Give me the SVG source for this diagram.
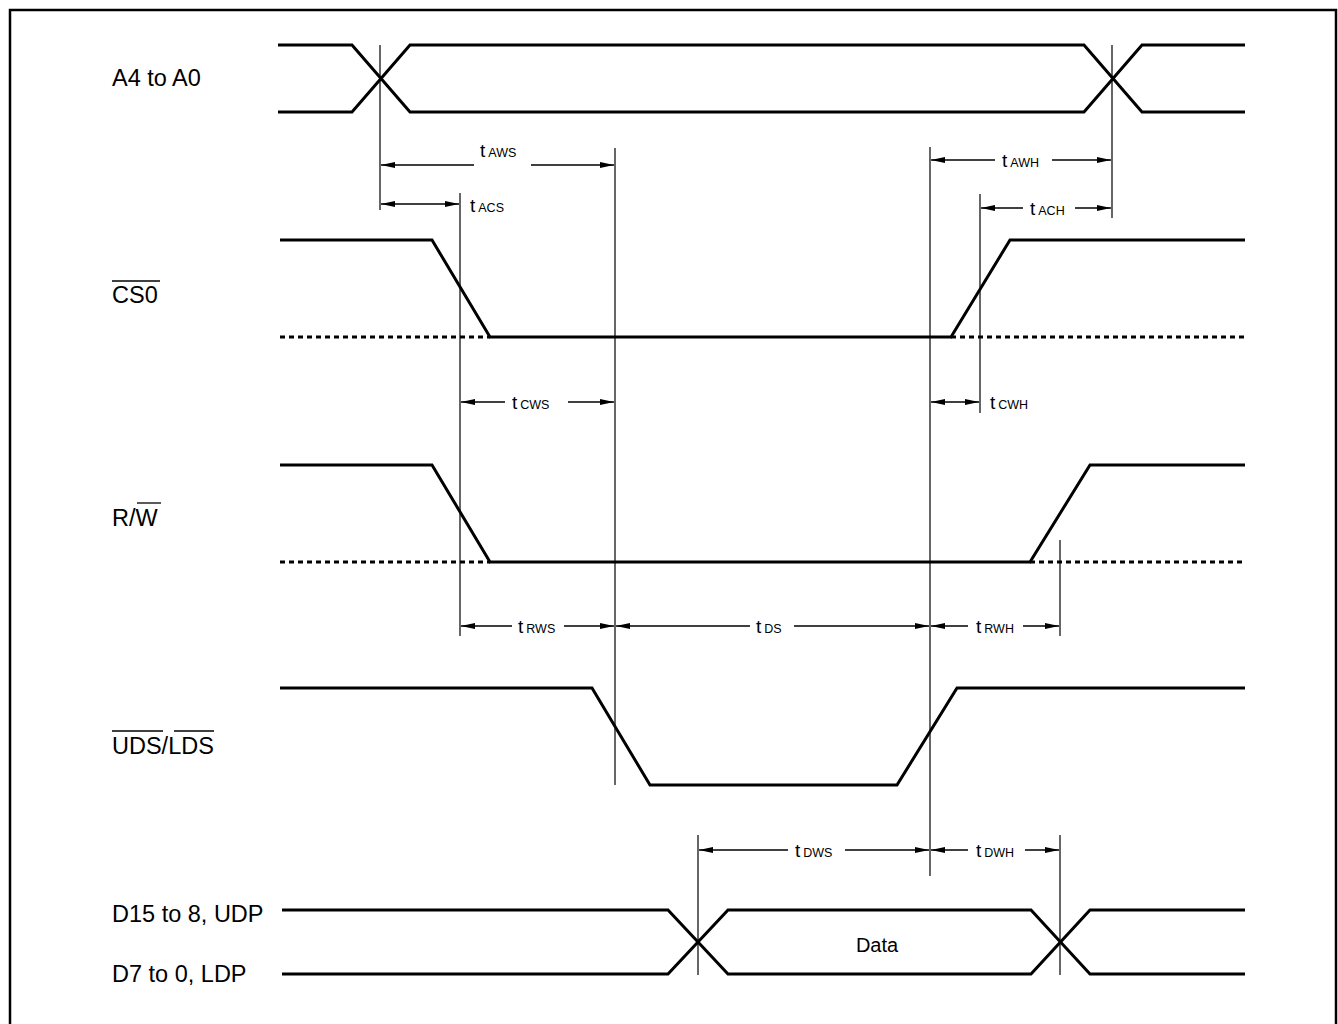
<svg xmlns="http://www.w3.org/2000/svg" width="1338" height="1024" viewBox="0 0 1338 1024">
<defs>
<marker id="ah" viewBox="0 0 14 6" refX="14" refY="3" markerWidth="14" markerHeight="6" markerUnits="userSpaceOnUse" orient="auto-start-reverse">
<path d="M0,0 L14,3 L0,6 Z" fill="#000"/>
</marker>
</defs>
<style>
.sig{fill:none;stroke:#000;stroke-width:3;stroke-linejoin:miter}
.dash{fill:none;stroke:#000;stroke-width:3;stroke-dasharray:5 4}
.vl{stroke:#000;stroke-width:1.2;fill:none}
.ar{stroke:#000;stroke-width:1.4;fill:none;marker-start:url(#ah);marker-end:url(#ah)}
.lbl{font-family:"Liberation Sans",Arial,sans-serif;font-size:23.5px;fill:#000}
.t{font-family:"Liberation Sans",Arial,sans-serif;font-size:19px;fill:#000}
.sub{font-size:12.5px}
.ov{stroke:#000;stroke-width:1.3}
</style>
<rect x="10" y="10" width="1326" height="1030" fill="#fff" stroke="#000" stroke-width="2.5"/>

<g id="labels">
<text class="lbl" x="112" y="86">A4 to A0</text>
<text class="lbl" x="112" y="303">CS0</text>
<line class="ov" x1="112" y1="281" x2="160" y2="281"/>
<text class="lbl" x="112" y="526">R/W</text>
<line class="ov" x1="137" y1="503" x2="161" y2="503"/>
<text class="lbl" x="112" y="754">UDS/LDS</text>
<line class="ov" x1="112" y1="731" x2="163" y2="731"/>
<line class="ov" x1="174" y1="731" x2="214" y2="731"/>
<text class="lbl" x="112" y="922">D15 to 8, UDP</text>
<text class="lbl" x="112" y="982">D7 to 0, LDP</text>
</g>

<g id="sig-addr">
<path class="sig" d="M278,45 H352 L410,112 H1084 L1142,45 H1245"/>
<path class="sig" d="M278,112 H352 L410,45 H1084 L1142,112 H1245"/>
</g>
<g id="sig-cs0">
<path class="dash" d="M280,337 H490"/>
<path class="dash" d="M951,337 H1245"/>
<path class="sig" d="M280,240 H432 L490,337 H951 L1010,240 H1245"/>
</g>
<g id="sig-rw">
<path class="dash" d="M280,562 H490"/>
<path class="dash" d="M1030,562 H1245"/>
<path class="sig" d="M280,465 H432 L490,562 H1030 L1090,465 H1245"/>
</g>
<g id="sig-uds">
<path class="sig" d="M280,688 H592 L650,785 H897 L957,688 H1245"/>
</g>
<g id="sig-data">
<path class="sig" d="M282,910 H668 L728,974 H1031 L1090,910 H1245"/>
<path class="sig" d="M282,974 H668 L728,910 H1031 L1090,974 H1245"/>
<text class="lbl" x="877" y="952" text-anchor="middle" style="font-size:20px">Data</text>
</g>

<g id="connectors">
<line class="vl" x1="380" y1="45" x2="380" y2="210"/>
<line class="vl" x1="1112" y1="45" x2="1112" y2="218"/>
<line class="vl" x1="615" y1="148" x2="615" y2="785"/>
<line class="vl" x1="930" y1="147" x2="930" y2="876"/>
<line class="vl" x1="460" y1="193" x2="460" y2="636"/>
<line class="vl" x1="980" y1="194" x2="980" y2="413"/>
<line class="vl" x1="1060" y1="540" x2="1060" y2="636"/>
<line class="vl" x1="698" y1="835" x2="698" y2="975"/>
<line class="vl" x1="1060" y1="835" x2="1060" y2="975"/>

<line class="ar" x1="381" y1="165" x2="474" y2="165" style="marker-end:none"/>
<line class="ar" x1="531" y1="165" x2="614" y2="165" style="marker-start:none"/>
<text class="t" x="480" y="157">t<tspan class="sub" dx="3">AWS</tspan></text>

<line class="ar" x1="381" y1="204" x2="459" y2="204"/>
<text class="t" x="470" y="212">t<tspan class="sub" dx="3">ACS</tspan></text>

<line class="ar" x1="931" y1="160" x2="995" y2="160" style="marker-end:none"/>
<line class="ar" x1="1052" y1="160" x2="1111" y2="160" style="marker-start:none"/>
<text class="t" x="1002" y="167">t<tspan class="sub" dx="3">AWH</tspan></text>

<line class="ar" x1="981" y1="208" x2="1023" y2="208" style="marker-end:none"/>
<line class="ar" x1="1075" y1="208" x2="1111" y2="208" style="marker-start:none"/>
<text class="t" x="1030" y="215">t<tspan class="sub" dx="3">ACH</tspan></text>

<line class="ar" x1="461" y1="402" x2="505" y2="402" style="marker-end:none"/>
<line class="ar" x1="568" y1="402" x2="614" y2="402" style="marker-start:none"/>
<text class="t" x="512" y="409">t<tspan class="sub" dx="3">CWS</tspan></text>

<line class="ar" x1="931" y1="402" x2="979" y2="402"/>
<text class="t" x="990" y="409">t<tspan class="sub" dx="3">CWH</tspan></text>

<line class="ar" x1="461" y1="626" x2="512" y2="626" style="marker-end:none"/>
<line class="ar" x1="564" y1="626" x2="614" y2="626" style="marker-start:none"/>
<text class="t" x="518" y="633">t<tspan class="sub" dx="3">RWS</tspan></text>

<line class="ar" x1="616" y1="626" x2="750" y2="626" style="marker-end:none"/>
<line class="ar" x1="794" y1="626" x2="929" y2="626" style="marker-start:none"/>
<text class="t" x="756" y="633">t<tspan class="sub" dx="3">DS</tspan></text>

<line class="ar" x1="931" y1="626" x2="968" y2="626" style="marker-end:none"/>
<line class="ar" x1="1023" y1="626" x2="1059" y2="626" style="marker-start:none"/>
<text class="t" x="976" y="633">t<tspan class="sub" dx="3">RWH</tspan></text>

<line class="ar" x1="699" y1="850" x2="788" y2="850" style="marker-end:none"/>
<line class="ar" x1="845" y1="850" x2="929" y2="850" style="marker-start:none"/>
<text class="t" x="795" y="857">t<tspan class="sub" dx="3">DWS</tspan></text>

<line class="ar" x1="931" y1="850" x2="968" y2="850" style="marker-end:none"/>
<line class="ar" x1="1025" y1="850" x2="1059" y2="850" style="marker-start:none"/>
<text class="t" x="976" y="857">t<tspan class="sub" dx="3">DWH</tspan></text>
</g>
</svg>
